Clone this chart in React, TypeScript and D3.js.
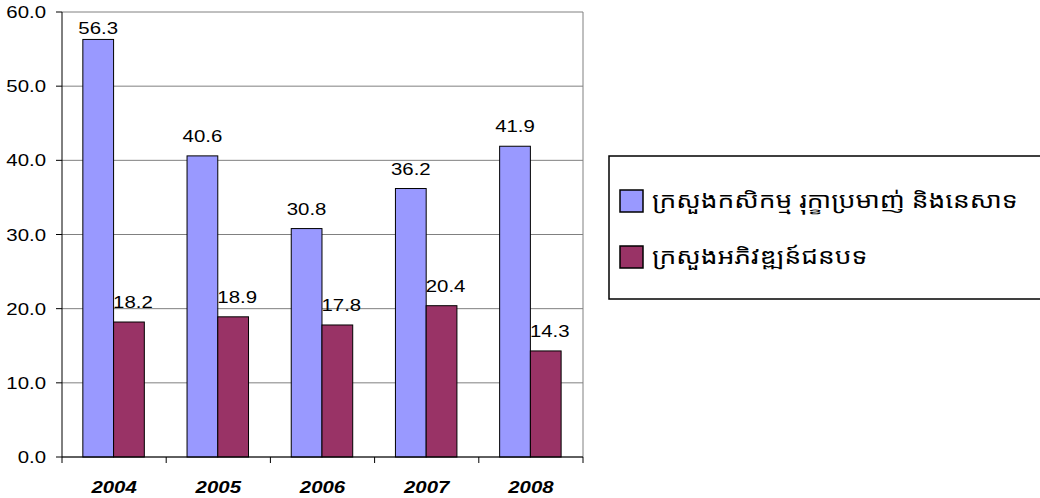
import * as d3 from 'd3';
import React from 'react';

const years = ['2004', '2005', '2006', '2007', '2008'];
const agriculture = [56.3, 40.6, 30.8, 36.2, 41.9];
const rural = [18.2, 18.9, 17.8, 20.4, 14.3];
const seriesNames = ['ក្រសួងកសិកម្ម រុក្ខាប្រមាញ់ និងនេសាទ', 'ក្រសួងអភិវឌ្ឍន៍ជនបទ'];
const seriesColors = ['#9999ff', '#993366'];
const yTicks = [0, 10, 20, 30, 40, 50, 60];

const W = 1040;
const H = 498;
const plot = { left: 62, right: 583, top: 12, bottom: 457 };
const font = '"Liberation Sans", Arial, sans-serif';
const khmerFont = '"Khmer OS", "Noto Sans Khmer", "Khmer OS System", DaunPenh, "Liberation Sans", sans-serif';
const stretch = 1.2; // the reference text is a bit wider than tall

// text drawn with a horizontal stretch, anchored at (x, y)
const Label = ({ x, y, anchor, size, weight, italic, family, children }: any) => (
	<g transform={`translate(${x},${y}) scale(${stretch},1)`}>
		<text
			textAnchor={anchor || 'middle'}
			fontSize={size}
			fontWeight={weight || 'normal'}
			fontStyle={italic ? 'italic' : 'normal'}
			fontFamily={family || font}
			fill="#000"
		>
			{children}
		</text>
	</g>
);

const App = () => {
	const x = d3.scaleBand().domain(years).range([plot.left, plot.right]).padding(0);
	const y = d3.scaleLinear().domain([0, 60]).range([plot.bottom, plot.top]);
	const bw = x.bandwidth();
	const barW = bw * 0.295;
	const pad = bw * 0.2;
	const series = [agriculture, rural];

	return (
		<svg width={W} height={H} style={{ position: 'absolute', left: 0, top: 0, background: '#fff' }}>
			<rect x={0} y={0} width={W} height={H} fill="#fff" />
			{/* gridlines */}
			{yTicks.map(t => (
				<line key={t} x1={plot.left} x2={plot.right} y1={y(t)} y2={y(t)} stroke="#808080" strokeWidth={1} />
			))}
			<line x1={plot.right} x2={plot.right} y1={plot.top} y2={plot.bottom} stroke="#808080" strokeWidth={1} />

			{/* bars */}
			{series.map((vals, si) =>
				vals.map((v, i) => (
					<rect
						key={`${si}-${i}`}
						x={(x(years[i]) as number) + pad + si * barW}
						y={y(v)}
						width={barW}
						height={y(0) - y(v)}
						fill={seriesColors[si]}
						stroke="#000"
						strokeWidth={1}
					/>
				))
			)}

			{/* value labels */}
			{series.map((vals, si) =>
				vals.map((v, i) => (
					<Label
						key={`l${si}-${i}`}
						x={(x(years[i]) as number) + pad + si * barW + barW / 2 + si * 4}
						y={Math.max(y(v) - 14, plot.top + 22)}
						size={17}
					>
						{v.toFixed(1)}
					</Label>
				))
			)}

			{/* axes */}
			<line x1={plot.left} x2={plot.left} y1={plot.top} y2={plot.bottom} stroke="#000" strokeWidth={1} />
			<line x1={plot.left} x2={plot.right} y1={plot.bottom} y2={plot.bottom} stroke="#000" strokeWidth={1} />
			{yTicks.map(t => (
				<g key={`yt${t}`}>
					<line x1={plot.left - 6} x2={plot.left} y1={y(t)} y2={y(t)} stroke="#000" />
					<Label x={46} y={y(t) + 6} anchor="end" size={17}>{t.toFixed(1)}</Label>
				</g>
			))}
			{[...years.map(yr => x(yr) as number), plot.right].map((tx, i) => (
				<line key={`xt${i}`} x1={tx} x2={tx} y1={plot.bottom} y2={plot.bottom + 6} stroke="#000" />
			))}
			{years.map(yr => (
				<Label key={`xl${yr}`} x={(x(yr) as number) + bw / 2} y={493} size={17} weight="bold" italic>
					{yr}
				</Label>
			))}

			{/* legend */}
			<rect x={609} y={156} width={440} height={143} fill="#fff" stroke="#000" strokeWidth={1.5} />
			{seriesNames.map((name, i) => (
				<g key={`lg${i}`}>
					<rect x={620} y={190 + i * 56} width={23} height={22} fill={seriesColors[i]} stroke="#000" strokeWidth={1.5} />
					<Label x={652} y={208 + i * 56} anchor="start" size={22} family={khmerFont}>
						{name}
					</Label>
				</g>
			))}
		</svg>
	);
};

export default App;
